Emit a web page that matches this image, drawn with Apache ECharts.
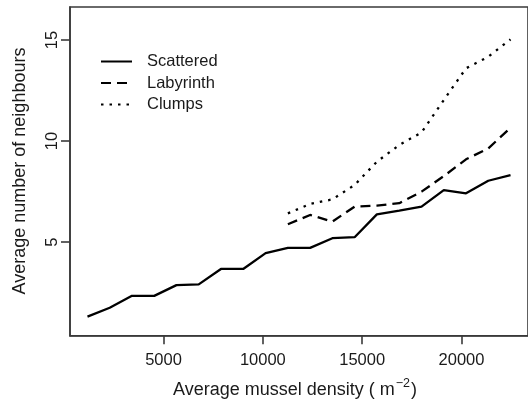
<!DOCTYPE html>
<html>
<head>
<meta charset="utf-8">
<script src="https://cdn.jsdelivr.net/npm/echarts@6/dist/echarts.min.js"></script>
<style>html,body{margin:0;padding:0;background:#fff}#c{width:528px;height:400px}</style>
</head>
<body>
<div id="c"></div>
<script>
var density = [1170, 2290, 3410, 4530, 5650, 6770, 7890, 9010, 10140, 11260, 12380, 13500, 14620, 15740, 16870, 17990, 19110, 20230, 21350, 22470];
var scattered = [1.32, 1.76, 2.35, 2.35, 2.88, 2.92, 3.68, 3.68, 4.46, 4.72, 4.72, 5.20, 5.25, 6.38, 6.56, 6.76, 7.58, 7.42, 8.04, 8.32];
var labyrinthStart = 9;
var labyrinth = [5.89, 6.35, 6.02, 6.76, 6.81, 6.93, 7.50, 8.27, 9.10, 9.64, 10.66];
var clumps = [6.43, 6.89, 7.12, 7.83, 8.98, 9.81, 10.43, 12.03, 13.60, 14.17, 15.03];
var xTicks = [5000, 10000, 15000, 20000];
var yTicks = [5, 10, 15];
var seriesNames = ['Scattered', 'Labyrinth', 'Clumps'];

function pairs(xs, ys, start) {
  return ys.map(function (v, i) { return [xs[start + i], v]; });
}

var FONT = '"Liberation Sans", Arial, sans-serif';
var TXT = '#1a1a1a';
var AX = '#3a3a3a';

var chart = echarts.init(document.getElementById('c'), null, {renderer: 'canvas'});
chart.setOption({
  animation: false,
  backgroundColor: '#fff',
  grid: {left: 70, top: 7, right: -8.8, bottom: 64.3, show: true, borderColor: AX, borderWidth: 1.6, containLabel: false},
  xAxis: {
    type: 'value', min: 290, max: 23350,
    axisLine: {show: true, onZero: false, lineStyle: {color: AX, width: 1.6}},
    axisTick: {show: true, length: 8.5, lineStyle: {color: AX, width: 1.6}, customValues: xTicks},
    axisLabel: {customValues: xTicks, margin: 16, color: TXT, fontSize: 16.5, fontFamily: FONT,
      formatter: function (v) { return String(v); }},
    splitLine: {show: false}
  },
  yAxis: {
    type: 'value', min: 0.38, max: 16.63,
    axisLine: {show: true, onZero: false, lineStyle: {color: AX, width: 1.6}},
    axisTick: {show: true, length: 9, lineStyle: {color: AX, width: 1.6}, customValues: yTicks},
    axisLabel: {customValues: yTicks, rotate: 90, margin: 9, color: TXT, fontSize: 16.5, fontFamily: FONT,
      formatter: function (v) { return String(v); }},
    splitLine: {show: false}
  },
  legend: {
    orient: 'vertical', left: 100, top: 53, padding: 0,
    itemWidth: 31, itemHeight: 14, itemGap: 4.5,
    itemStyle: {opacity: 0},
    textStyle: {color: TXT, fontSize: 16.5, fontFamily: FONT, padding: [0, 0, 0, 10]},
    data: seriesNames
  },
  series: [
    {name: seriesNames[0], type: 'line', symbol: 'none', data: pairs(density, scattered, 0),
     lineStyle: {color: '#000', width: 2.3, type: 'solid'}, itemStyle: {color: '#000'}},
    {name: seriesNames[1], type: 'line', symbol: 'none', data: pairs(density, labyrinth, labyrinthStart),
     lineStyle: {color: '#000', width: 2.3, type: [10, 6]}, itemStyle: {color: '#000'}},
    {name: seriesNames[2], type: 'line', symbol: 'none', data: pairs(density, clumps, labyrinthStart),
     lineStyle: {color: '#000', width: 2.3, type: [2.5, 6]}, itemStyle: {color: '#000'}}
  ],
  graphic: [
    {type: 'text', x: 295, y: 388, style: {
      text: '{n|Average mussel density ( m}{s|−2}{n|)}', align: 'center', verticalAlign: 'middle',
      rich: {n: {fontSize: 18, fontFamily: FONT, fill: TXT, verticalAlign: 'bottom', lineHeight: 22},
             s: {fontSize: 12.5, fontFamily: FONT, fill: TXT, verticalAlign: 'top', padding: [0, 1, 9, 1], lineHeight: 22}}
    }},
    {type: 'text', x: 20, y: 171, rotation: Math.PI / 2, style: {
      text: 'Average number of neighbours', align: 'center', verticalAlign: 'middle',
      fontSize: 18, fontFamily: FONT, fill: TXT
    }}
  ]
});
</script>
</body>
</html>
